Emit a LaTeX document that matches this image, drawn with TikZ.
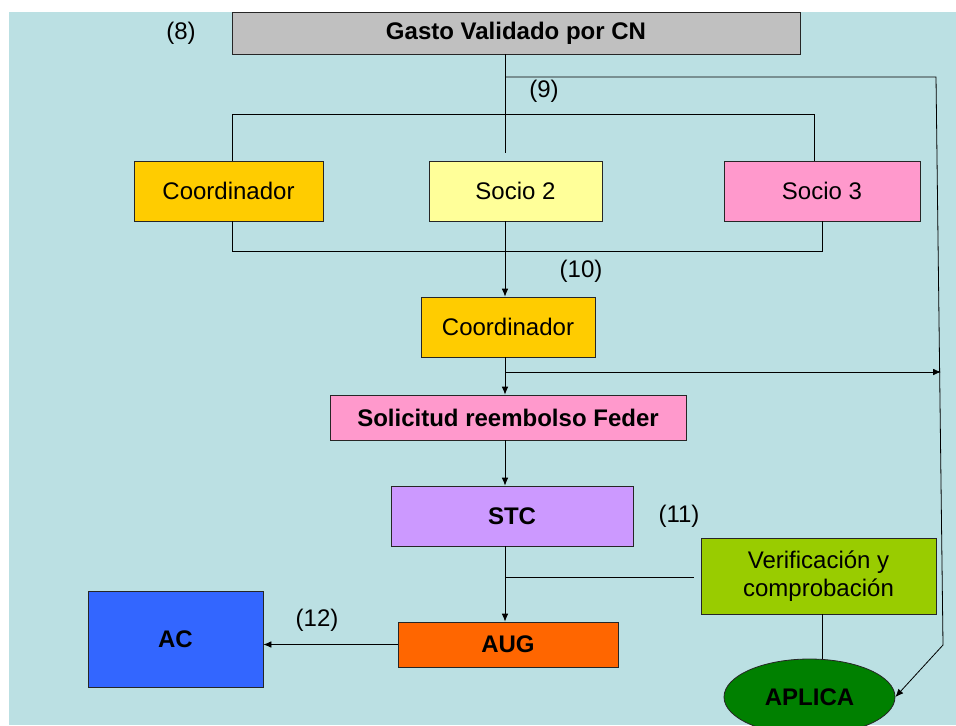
\documentclass[tikz,border=0pt]{standalone}
\usepackage{fontspec}
\setmainfont{Liberation Sans}
\usetikzlibrary{arrows.meta}
\usetikzlibrary{shapes.geometric}
\definecolor{fondo}{RGB}{187,224,227}
\definecolor{gris}{RGB}{192,192,192}
\definecolor{oro}{RGB}{255,204,0}
\definecolor{amarillo}{RGB}{255,255,153}
\definecolor{rosa}{RGB}{255,153,204}
\definecolor{lila}{RGB}{204,153,255}
\definecolor{lima}{RGB}{153,204,0}
\definecolor{naranja}{RGB}{255,102,0}
\definecolor{azul}{RGB}{51,102,255}
\definecolor{verde}{RGB}{0,128,0}
\tikzset{
  caja/.style={draw=black!85, line width=0.6pt, rectangle, inner sep=0pt, align=center,
    font=\fontsize{18}{21}\selectfont},
  negrita/.style={font=\fontsize{18}{21}\selectfont\bfseries},
  flecha/.style={line width=0.6pt, -{Latex[length=6pt,width=5pt]}},
  linea/.style={line width=0.6pt},
  etiq/.style={font=\fontsize{18}{21}\selectfont, inner sep=0pt}
}
\begin{document}
\begin{tikzpicture}[x=0.75pt,y=-0.75pt]
\useasboundingbox (0,0) rectangle (956,725);
\clip (0,0) rectangle (956,725);
\fill[fondo] (9,12) rectangle (956,725);

% cajas
\node[caja, negrita, fill=gris, minimum width=426pt, minimum height=31.5pt] (gasto) at (516,33) {Gasto Validado por CN};
\node[caja, fill=oro, minimum width=141.75pt, minimum height=45pt] (coordA) at (228.5,191) {Coordinador};
\node[caja, fill=amarillo, minimum width=129.75pt, minimum height=45pt] (socioB) at (515.5,191) {Socio 2};
\node[caja, fill=rosa, minimum width=147pt, minimum height=45pt] (socioC) at (822,191) {Socio 3};
\node[caja, fill=oro, minimum width=130.5pt, minimum height=45pt] (coordB) at (508,327) {Coordinador};
\node[caja, negrita, fill=rosa, minimum width=267pt, minimum height=33.75pt] (solic) at (508,417.5) {Solicitud reembolso Feder};
\node[caja, negrita, fill=lila, minimum width=181.5pt, minimum height=45pt] (stc) at (512,516) {STC};
\node[caja, fill=lima, minimum width=176.25pt, minimum height=57pt] (verif) at (818.5,576) {Verificación y\\comprobación};
\node[caja, negrita, fill=naranja, minimum width=165pt, minimum height=33.75pt] (aug) at (508,644.5) {AUG};
\node[caja, negrita, fill=azul, minimum width=131.25pt, minimum height=72pt] (ac) at (175.5,639) {AC};
\node[caja, negrita, ellipse, fill=verde, minimum width=128.25pt, minimum height=57pt] (aplica) at (809.5,697) {APLICA};

% etiquetas
\node[etiq] (l8) at (181,33) {(8)};
\node[etiq] (l9) at (544,91) {(9)};
\node[etiq] (l10) at (581,271) {(10)};
\node[etiq] (l11) at (679,516) {(11)};
\node[etiq] (l12) at (317,620) {(12)};

% puntos libres
\coordinate (eje) at (505,0);
\coordinate (finA) at (505,153);
\coordinate (esqA) at (936,77);
\coordinate (esqB) at (943,645);
\coordinate (finB) at (941,372);
\coordinate (finC) at (694,577);

% conectores
\draw[linea] (gasto.south -| eje) -- (finA);
\draw[linea] (esqA -| eje) -- (esqA) -- (esqB);
\draw[flecha] (esqB) -- (aplica.east);
\draw[linea] ([xshift=2.6pt]coordA.north) -- ++(0,-46) -| ([xshift=-6pt]socioC.north);
\draw[linea] ([xshift=2.6pt]coordA.south) -- ++(0,30) -| (socioC.south);
\draw[flecha] (socioB.south -| eje) -- (coordB.north -| eje);
\draw[flecha] (coordB.south -| eje) -- (solic.north -| eje);
\draw[flecha] (finB -| eje) -- (finB);
\draw[flecha] (solic.south -| eje) -- (stc.north -| eje);
\draw[flecha] (stc.south -| eje) -- (aug.north -| eje);
\draw[linea] (finC -| eje) -- (finC);
\draw[linea] ([xshift=2.6pt]verif.south) -- ([xshift=2.6pt]verif.south |- aplica.north);
\draw[flecha] (aug.west) -- (aug.west -| ac.east);
\end{tikzpicture}
\end{document}
